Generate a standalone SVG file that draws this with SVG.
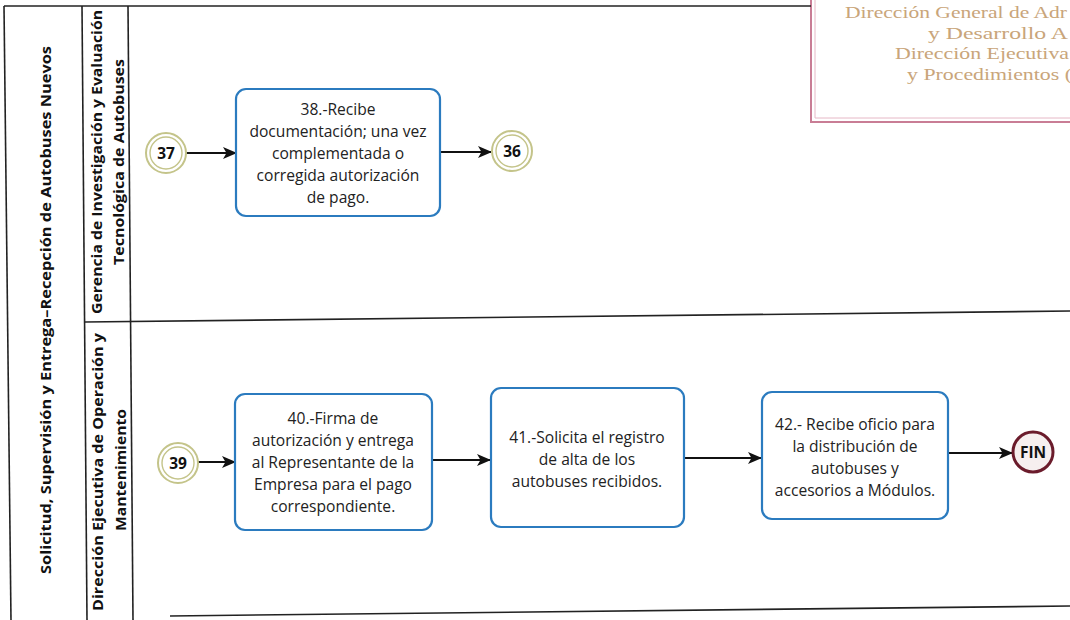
<svg xmlns="http://www.w3.org/2000/svg" width="1070" height="620" viewBox="0 0 1070 620">
  <style>
    .frame { fill: none; stroke: #222; stroke-width: 1.6; }
    .hdr { font-family: "Open Sans", "DejaVu Sans", sans-serif; font-weight: 700; font-size: 15px; fill: #111; text-anchor: middle; }
    .task { fill: #fff; stroke: #2b7bbf; stroke-width: 2.2; }
    .tt { font-family: "Open Sans", "DejaVu Sans", sans-serif; font-size: 15.6px; fill: #222; text-anchor: middle; }
    .evo { fill: #fff; stroke: #c4c48a; stroke-width: 2; }
    .evi { fill: none; stroke: #c4c48a; stroke-width: 1.4; }
    .evt { font-family: "Open Sans", "DejaVu Sans", sans-serif; font-weight: 700; font-size: 15.5px; fill: #111; text-anchor: middle; }
    .conn { stroke: #111; stroke-width: 1.8; fill: none; marker-end: url(#arr); }
    .stamp { font-family: "Liberation Serif", "Times New Roman", serif; font-size: 17.5px; fill: #c9a57a; }
  </style>
  <defs>
    <marker id="arr" viewBox="0 0 14 12" refX="13" refY="6" markerWidth="14" markerHeight="12" markerUnits="userSpaceOnUse" orient="auto">
      <path d="M0,0 L14,6 L0,12 L3.5,6 z" fill="#111"/>
    </marker>
  </defs>

  <rect width="1070" height="620" fill="#fff"/>

  <!-- stamp box, top right -->
  <g id="stamp">
    <path d="M811,0 V122 H1070" fill="none" stroke="#c97d95" stroke-width="2"/>
    <path d="M815,0 V118 H1070" fill="none" stroke="#e6b8c6" stroke-width="1"/>
    <text class="stamp" x="845" y="18" textLength="222" lengthAdjust="spacingAndGlyphs">Dirección General de Adr</text>
    <text class="stamp" x="928" y="38.5" textLength="140" lengthAdjust="spacingAndGlyphs">y Desarrollo A</text>
    <text class="stamp" x="895" y="59" textLength="174" lengthAdjust="spacingAndGlyphs">Dirección Ejecutiva</text>
    <text class="stamp" x="907" y="79.5" textLength="165" lengthAdjust="spacingAndGlyphs">y Procedimientos (</text>
  </g>

  <!-- pool frame and lanes -->
  <g id="pool">
    <line class="frame" x1="4" y1="6" x2="811" y2="6"/>
    <line class="frame" x1="4" y1="6" x2="11" y2="620"/>
    <line class="frame" x1="82" y1="6" x2="87" y2="620"/>
    <line class="frame" x1="128" y1="6" x2="133" y2="620"/>
    <line class="frame" x1="85" y1="322" x2="1070" y2="311"/>
    <line class="frame" x1="170" y1="616" x2="1070" y2="606" stroke-width="1.3"/>
    <text class="hdr" transform="translate(51,310) rotate(-90)" textLength="528" lengthAdjust="spacingAndGlyphs">Solicitud, Supervisión y Entrega–Recepción de Autobuses Nuevos</text>
    <text class="hdr" transform="translate(102,162) rotate(-90)" textLength="304" lengthAdjust="spacingAndGlyphs">Gerencia de Investigación y Evaluación</text>
    <text class="hdr" transform="translate(124,162) rotate(-90)" textLength="206" lengthAdjust="spacingAndGlyphs">Tecnológica de Autobuses</text>
    <text class="hdr" transform="translate(103,472) rotate(-90)" textLength="278" lengthAdjust="spacingAndGlyphs">Dirección Ejecutiva de Operación y</text>
    <text class="hdr" transform="translate(126,470) rotate(-90)" textLength="122" lengthAdjust="spacingAndGlyphs">Mantenimiento</text>
  </g>

  <!-- connectors -->
  <g id="connectors">
    <line class="conn" x1="186" y1="153" x2="236" y2="153"/>
    <line class="conn" x1="440" y1="152" x2="491" y2="152"/>
    <line class="conn" x1="198" y1="462" x2="235" y2="462"/>
    <line class="conn" x1="432" y1="460" x2="490" y2="460"/>
    <line class="conn" x1="684" y1="458" x2="761" y2="458"/>
    <line class="conn" x1="948" y1="453" x2="1012" y2="453"/>
  </g>

  <g id="ev37">
    <circle class="evo" cx="166" cy="153" r="20"/>
    <circle class="evi" cx="166" cy="153" r="16"/>
    <text class="evt" x="166" y="158.5">37</text>
  </g>

  <g id="task38">
    <rect class="task" x="236" y="89" width="204" height="127" rx="10"/>
    <text class="tt" x="338" y="115">38.-Recibe</text>
    <text class="tt" x="338" y="137">documentación; una vez</text>
    <text class="tt" x="338" y="159">complementada o</text>
    <text class="tt" x="338" y="181">corregida autorización</text>
    <text class="tt" x="338" y="203">de pago.</text>
  </g>

  <g id="ev36">
    <circle class="evo" cx="512" cy="151" r="20"/>
    <circle class="evi" cx="512" cy="151" r="16"/>
    <text class="evt" x="512" y="156.5">36</text>
  </g>

  <g id="ev39">
    <circle class="evo" cx="178" cy="463" r="20"/>
    <circle class="evi" cx="178" cy="463" r="16"/>
    <text class="evt" x="178" y="468.5">39</text>
  </g>

  <g id="task40">
    <rect class="task" x="235" y="394" width="197" height="136" rx="10"/>
    <text class="tt" x="333" y="424">40.-Firma de</text>
    <text class="tt" x="333" y="446">autorización y entrega</text>
    <text class="tt" x="333" y="468">al Representante de la</text>
    <text class="tt" x="333" y="490">Empresa para el pago</text>
    <text class="tt" x="333" y="512">correspondiente.</text>
  </g>

  <g id="task41">
    <rect class="task" x="491" y="388" width="193" height="139" rx="10"/>
    <text class="tt" x="587" y="443">41.-Solicita el registro</text>
    <text class="tt" x="587" y="465">de alta de los</text>
    <text class="tt" x="587" y="487">autobuses recibidos.</text>
  </g>

  <g id="task42">
    <rect class="task" x="762" y="392" width="186" height="127" rx="10"/>
    <text class="tt" x="855" y="430">42.- Recibe oficio para</text>
    <text class="tt" x="855" y="452">la distribución de</text>
    <text class="tt" x="855" y="474">autobuses y</text>
    <text class="tt" x="855" y="496">accesorios a Módulos.</text>
  </g>

  <g id="fin">
    <circle cx="1033" cy="452" r="20" fill="#f6efef" stroke="#6b1c2c" stroke-width="3"/>
    <text class="evt" x="1033" y="457.5">FIN</text>
  </g>
</svg>
